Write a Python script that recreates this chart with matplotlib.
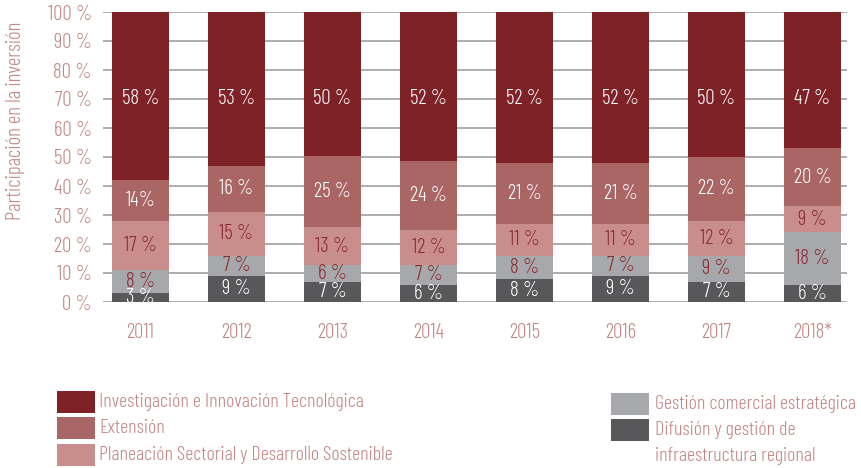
import matplotlib.pyplot as plt
import matplotlib.patches as mpatches
import numpy as np

plt.rcParams['font.family'] = ['Barlow Condensed', 'DejaVu Sans']
plt.rcParams['font.weight'] = 300

years = ["2011", "2012", "2013", "2014", "2015", "2016", "2017", "2018*"]

# bottom to top
difusion = [3, 9, 7, 6, 8, 9, 7, 6]
gestion = [8, 7, 6, 7, 8, 7, 9, 18]
planeacion = [17, 15, 13, 12, 11, 11, 12, 9]
extension = [14, 16, 25, 24, 21, 21, 22, 20]
investigacion = [58, 53, 50, 52, 52, 52, 50, 47]

series = [difusion, gestion, planeacion, extension, investigacion]
colors = ['#58585a', '#a7a8ab', '#c98e8c', '#aa6664', '#7f2228']
txt_colors = ['white', '#8b2a30', '#8b2a30', 'white', 'white']
label_color = '#c48583'

fig = plt.figure(figsize=(8.62, 4.68), dpi=100)
ax = fig.add_axes([103 / 862, 1 - 302 / 468, 744 / 862, 290 / 468])

x = np.arange(len(years))
data = np.array(series, dtype=float)
shares = data / data.sum(axis=0) * 100  # stacks fill 100 %
bottom = np.zeros(len(years))
for i, (vals, raw, col, tc) in enumerate(zip(shares, data, colors, txt_colors)):
    ax.bar(x, vals, width=0.595, bottom=bottom, color=col, zorder=2)
    for xi in x:
        yc = 70 if i == len(series) - 1 else bottom[xi] + vals[xi] / 2
        lab = f"{int(raw[xi])} %"
        if years[xi] == "2011" and raw[xi] == 14:
            lab = "14%"
        ax.text(xi, yc, lab, ha='center', va='center', color=tc, fontsize=15, zorder=3)
    bottom += vals

ax.set_xlim(-0.39, 7.36)
ax.set_ylim(0, 100)
ax.set_yticks(range(0, 101, 10))
ax.set_yticklabels([f"{v} %" for v in range(0, 101, 10)])
ax.yaxis.grid(True, color='#a0a0a0', linewidth=1.2, zorder=0)
ax.set_axisbelow(True)
for s in ax.spines.values():
    s.set_visible(False)
ax.tick_params(axis='y', length=0, pad=8, labelsize=15, labelcolor=label_color)
ax.set_xticks(x)
ax.set_xticklabels(years)
ax.tick_params(axis='x', length=0, pad=15, labelsize=15, labelcolor=label_color)

fig.text(16 / 862, 1 - 121 / 468, "Participación en la inversión", rotation=90,
         ha='center', va='center', fontsize=15, color=label_color)

# legend
leg_left = [
    ("Investigación e Innovación Tecnológica", '#7f2228', 402),
    ("Extensión", '#aa6664', 428),
    ("Planeación Sectorial y Desarrollo Sostenible", '#c98e8c', 455),
]
leg_right = [
    ("Gestión comercial estratégica", '#a7a8ab', 404),
    ("Difusión y gestión de\ninfraestructura regional", '#58585a', 430),
]
for items, x0, tx in [(leg_left, 57, 99), (leg_right, 611, 655)]:
    for label, col, yc in items:
        fig.patches.append(mpatches.Rectangle((x0 / 862, 1 - (yc + 11) / 468), 38 / 862, 22 / 468,
                                              transform=fig.transFigure, facecolor=col, edgecolor='none'))
        multi = '\n' in label
        fig.text(tx / 862, 1 - (yc - 9) / 468 if multi else 1 - yc / 468, label, ha='left',
                 va='top' if multi else 'center', fontsize=14.5, color=label_color, linespacing=1.55)

plt.savefig("out.png", dpi=100)
